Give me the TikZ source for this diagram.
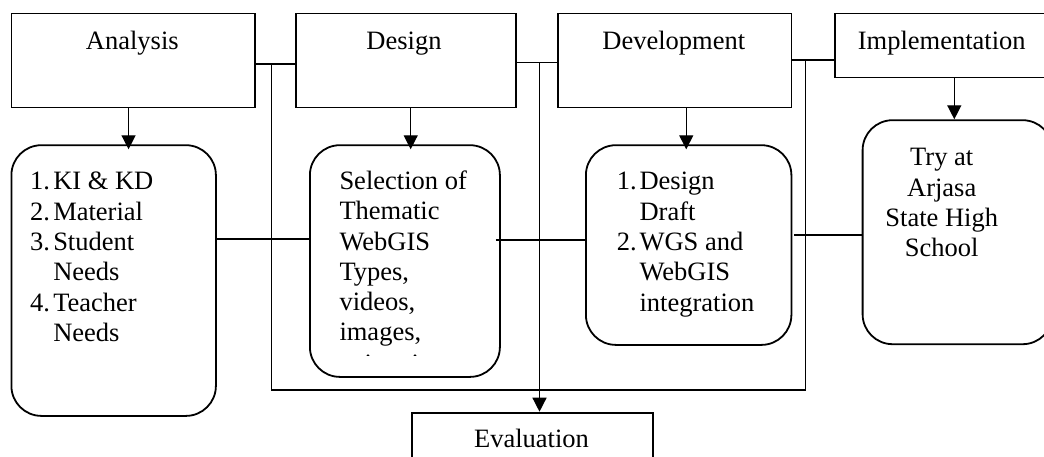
\documentclass[tikz,border=0pt]{standalone}
\usepackage{fontspec}
\setmainfont{Liberation Serif}
\usetikzlibrary{arrows.meta}
\tikzset{
  box/.style={draw, line width=1.8pt, inner sep=0pt, anchor=north west},
  rbox/.style={box, rounded corners=30pt},
  txt/.style={inner sep=0pt, font=\fontsize{26.5}{30.3}\selectfont},
  conn/.style={line width=1.4pt},
  arr/.style={line width=1.4pt, -{Triangle[width=14pt,length=14pt]}},
}
\begin{document}
\begin{tikzpicture}[x=1pt,y=-1pt]
\useasboundingbox (0,0) rectangle (1044,457);
% top boxes
\node[box, minimum width=243.5pt, minimum height=94pt] (A) at (10.5,12.7) {};
\node[box, minimum width=220pt, minimum height=94pt] (D) at (295,12.7) {};
\node[box, minimum width=233.5pt, minimum height=94pt] (Dv) at (557,12.7) {};
\node[box, minimum width=216pt, minimum height=64pt] (I) at (834,12.7) {};
% rounded boxes
\node[rbox, minimum width=204.5pt, minimum height=270.7pt] (B1) at (10.5,144.3) {};
\node[rbox, minimum width=190pt, minimum height=231.7pt] (B2) at (309,144.3) {};
\node[rbox, minimum width=205.5pt, minimum height=199.7pt] (B3) at (585,144.3) {};
\node[rbox, minimum width=190pt, minimum height=224pt] (B4) at (861.7,119.3) {};
% evaluation
\node[box, minimum width=241.6pt, minimum height=60pt] (E) at (410.7,411.7) {};

% labels
\node[txt, anchor=base] (tA) at (132.3,49.5) {Analysis};
\node[txt, anchor=base] (tD) at (404,49.5) {Design};
\node[txt, anchor=base] (tDv) at (673.8,49.5) {Development};
\node[txt, anchor=base] (tI) at (941.7,49.5) {Implementation};
\node[txt, anchor=base] (tE) at (531.5,447.5) {Evaluation};

\node[txt, anchor=base west] (t1) at (30,190) {\begin{tabular}[t]{@{}l@{\hspace{3.2pt}}l@{}}1.&KI \& KD\\2.&Material\\3.&Student\\&Needs\\4.&Teacher\\&Needs\end{tabular}};
\node[txt, anchor=base west] (t2) at (339.3,189.5) {\begin{tabular}[t]{@{}l@{}}Selection of\\Thematic\\WebGIS\\Types,\\videos,\\images,\end{tabular}};
\begin{scope}
\clip (330,340) rectangle (490,355.9);
\node[txt, anchor=base west] (t2b) at (339.3,372.5) {animation};
\end{scope}
\node[txt, anchor=base west] (t3) at (616.7,190) {\begin{tabular}[t]{@{}l@{\hspace{2.8pt}}l@{}}1.&Design\\&Draft\\2.&WGS and\\&WebGIS\\&integration\end{tabular}};
\node[txt, anchor=base] (t4) at (941.7,166) {\begin{tabular}[t]{@{}c@{}}Try at\\Arjasa\\State High\\School\end{tabular}};

% junction coordinates
\coordinate (j1) at (271.7,64);
\coordinate (j2) at (539.5,62.7);
\coordinate (j3) at (805.7,60);
\coordinate (b1) at (271.7,390);
\coordinate (b3) at (805.7,390);
\coordinate (r1) at (0,239);
\coordinate (r2) at (0,240);
\coordinate (r3) at (0,235);

% top connectors
\draw[conn] (A.east |- j1) -- (D.west |- j1);
\draw[conn] (D.east |- j2) -- (Dv.west |- j2);
\draw[conn] (Dv.east |- j3) -- (I.west |- j3);
% feedback loop
\draw[conn] (j1) -- (b1) -- (b3) -- (j3);
\draw[arr] (j2) -- (E.north -| j2);

% down arrows
\draw[arr, shorten >=-5pt] ([xshift=-4.6pt]A.south) -- ([xshift=-4.6pt]A.south |- B1.north);
\draw[arr, shorten >=-5pt] ([xshift=4.8pt]D.south) -- ([xshift=4.8pt]D.south |- B2.north);
\draw[arr, shorten >=-5pt] ([xshift=11.6pt]Dv.south) -- ([xshift=11.6pt]Dv.south |- B3.north);
\draw[arr] (I.south -| B4.north) ++(-3.3pt,0) coordinate (ia) -- (ia |- B4.north);

% horizontal links between rounded boxes
\draw[conn] (B1.east |- r1) -- (B2.west |- r1);
\draw[conn] ([xshift=-5pt]B2.east |- r2) -- (B3.west |- r2);
\draw[conn] ([xshift=2pt]B3.east |- r3) -- (B4.west |- r3);
\end{tikzpicture}
\end{document}
